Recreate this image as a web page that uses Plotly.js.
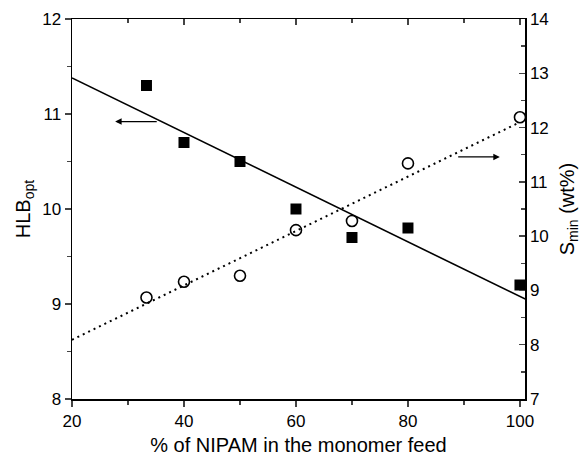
<!DOCTYPE html>
<html>
<head>
<meta charset="utf-8">
<script src="https://cdn.plot.ly/plotly-3.0.1.min.js"></script>
<style>html,body{margin:0;padding:0;background:#fff;}#chart{width:584px;height:458px;}</style>
</head>
<body>
<div id="chart"></div>
<script>
// Data
var nipam = [33.3, 40, 50, 60, 70, 80, 100];
var hlbOpt = [11.3, 10.7, 10.5, 10.0, 9.7, 9.8, 9.2];
var sMin = [8.87, 9.16, 9.27, 10.11, 10.28, 11.34, 12.19];
var fitX = [20, 101];
var hlbFit = [11.38, 9.05];
var sFitX = [20, 100];
var sFit = [8.09, 12.1];
var xTicks = [20, 40, 60, 80, 100];
var hlbTicks = [8, 9, 10, 11, 12];
var sTicks = [7, 8, 9, 10, 11, 12, 13, 14];

var font = 'Liberation Sans, Arial, sans-serif';

var traces = [
  {x: fitX, y: hlbFit, mode: 'lines', line: {color: '#000', width: 1.6}, xaxis: 'x', yaxis: 'y', hoverinfo: 'skip'},
  {x: sFitX, y: sFit, mode: 'lines', line: {color: '#000', width: 2, dash: '2px,4px'}, xaxis: 'x', yaxis: 'y2', hoverinfo: 'skip'},
  {x: nipam, y: hlbOpt, mode: 'markers', marker: {symbol: 'square', size: 11, color: '#000'}, xaxis: 'x', yaxis: 'y'},
  {x: nipam, y: sMin, mode: 'markers', marker: {symbol: 'circle-open', size: 11, color: '#000', line: {width: 1.6, color: '#000'}}, xaxis: 'x', yaxis: 'y2'},
  {x: [], y: [], xaxis: 'x2', yaxis: 'y', showlegend: false}
];

var layout = {
  width: 584, height: 458,
  margin: {l: 72, r: 59, t: 19, b: 59},
  paper_bgcolor: '#fff', plot_bgcolor: '#fff',
  showlegend: false,
  font: {family: font, size: 16, color: '#000'},
  xaxis: {
    range: [20, 100.9], tickvals: xTicks, ticks: 'outside', ticklen: 6, tickwidth: 1.5,
    minor: {dtick: 10, tick0: 0, ticks: 'outside', ticklen: 4, tickwidth: 1.5, showgrid: false},
    showline: true, linewidth: 1.5, linecolor: '#000', showgrid: false, zeroline: false,
    tickfont: {size: 17, family: font},
    title: {text: '% of NIPAM in the monomer feed', font: {size: 20, family: font}, standoff: 8}
  },
  xaxis2: {
    overlaying: 'x', side: 'top', anchor: 'y', matches: 'x', range: [20, 100.9],
    tickvals: xTicks, ticks: 'inside', ticklen: 6, tickwidth: 1.5, showticklabels: false,
    minor: {dtick: 10, tick0: 0, ticks: 'inside', ticklen: 4, tickwidth: 1.5, showgrid: false},
    showline: true, linewidth: 1.5, linecolor: '#000', showgrid: false, zeroline: false
  },
  yaxis: {
    range: [8, 12], tickvals: hlbTicks, ticks: 'outside', ticklen: 6, tickwidth: 1.5,
    minor: {dtick: 0.5, tick0: 0, ticks: 'outside', ticklen: 4, tickwidth: 1.5, showgrid: false},
    showline: true, linewidth: 1.5, linecolor: '#000', showgrid: false, zeroline: false,
    tickfont: {size: 17, family: font},
    title: {text: 'HLB<sub>opt</sub>', font: {size: 20, family: font}, standoff: 6}
  },
  yaxis2: {
    overlaying: 'y', side: 'right', anchor: 'x', range: [7, 14], tickvals: sTicks,
    ticks: 'inside', ticklen: 6, tickwidth: 1.5,
    minor: {dtick: 0.5, tick0: 0, ticks: 'inside', ticklen: 4, tickwidth: 1.5, showgrid: false},
    showline: true, linewidth: 1.5, linecolor: '#000', showgrid: false, zeroline: false,
    tickfont: {size: 17, family: font},
    title: {text: 'S<sub>min</sub> (wt%)', font: {size: 20, family: font}, standoff: 12}
  },
  annotations: [
    {x: 27.7, y: 10.92, ax: 35.4, ay: 10.92, xref: 'x', yref: 'y', axref: 'x', ayref: 'y',
     text: '', showarrow: true, arrowhead: 2, arrowsize: 1, arrowwidth: 1.3, arrowcolor: '#000'},
    {x: 96.4, y: 11.46, ax: 88.7, ay: 11.46, xref: 'x', yref: 'y2', axref: 'x', ayref: 'y2',
     text: '', showarrow: true, arrowhead: 2, arrowsize: 1, arrowwidth: 1.3, arrowcolor: '#000'}
  ]
};

Plotly.newPlot('chart', traces, layout, {displayModeBar: false, staticPlot: true});
</script>
</body>
</html>
